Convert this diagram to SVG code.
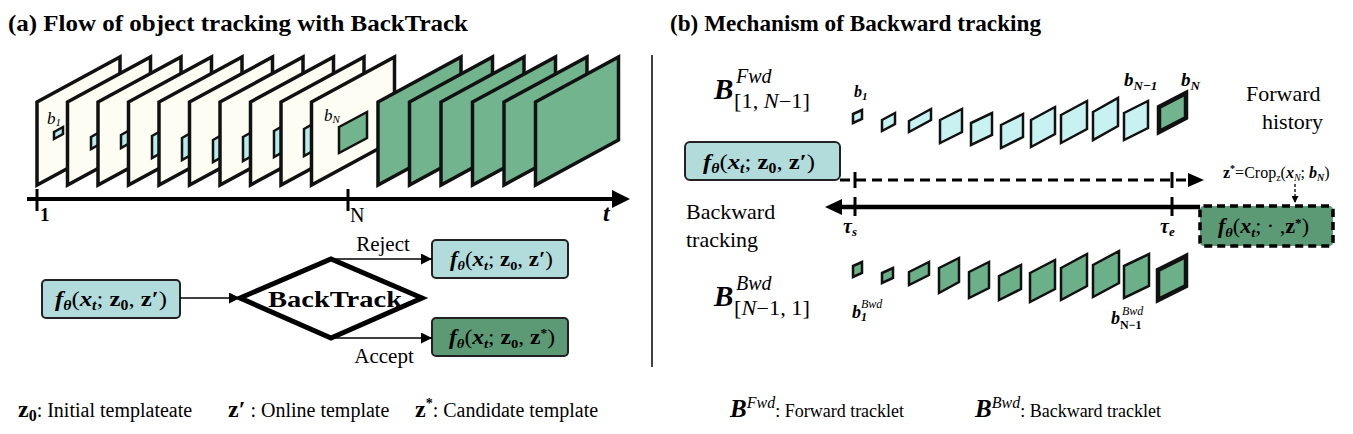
<svg xmlns="http://www.w3.org/2000/svg" width="1353" height="434" viewBox="0 0 1353 434" font-family="'Liberation Serif','Times New Roman',serif">
<defs>
<style>
text{font-family:"Liberation Serif","Times New Roman",serif;fill:#000}
.title{font-size:23px;font-weight:bold}
.bi{font-weight:bold;font-style:italic}
.b{font-weight:bold}
.it{font-style:italic}
.n{font-weight:normal;font-style:normal}
.frW{fill:#fdfdf3;stroke:#111;stroke-width:3.5;stroke-linejoin:miter}
.frG{fill:#72b48e;stroke:#111;stroke-width:3.5}
.sbox{fill:#b8ecec;stroke:#111;stroke-width:2.5}
.gbox{fill:#72b48e;stroke:#111;stroke-width:2.5}
.fb{fill:#c8f2f2;stroke:#111;stroke-width:2.5}
.bb{fill:#6cb08a;stroke:#111;stroke-width:2.5}
.teal{fill:#b2dcdc;stroke:#222;stroke-width:2}
.dkg{fill:#5b9a74;stroke:#222;stroke-width:2}
.ln{stroke:#000;fill:none}
.lbl{font-size:22px}
.leg{font-size:20px}
.legr{font-size:18px}
</style>
<marker id="ah" viewBox="0 0 10 10" refX="10" refY="5" markerWidth="11" markerHeight="11" markerUnits="userSpaceOnUse" orient="auto"><path d="M0,0L10,5L0,10z" fill="#000"/></marker>
<marker id="ahs" viewBox="0 0 10 10" refX="10" refY="5" markerWidth="7" markerHeight="7" markerUnits="userSpaceOnUse" orient="auto"><path d="M0,0L10,5L0,10z" fill="#000"/></marker>
</defs>
<rect width="1353" height="434" fill="#fff"/>

<text x="8" y="31" class="title" textLength="460" lengthAdjust="spacingAndGlyphs">(a) Flow of object tracking with BackTrack</text>
<text x="670" y="31" class="title" textLength="371" lengthAdjust="spacingAndGlyphs">(b) Mechanism of Backward tracking</text>
<line x1="652" y1="55" x2="652" y2="367" stroke="#000" stroke-width="1.5"/>

<g id="frames">
<polygon class="frW" points="37,102 120,57 120,140 37,185"/>
<polygon class="sbox" points="54,132 63,127 63,134 54,139"/>
<text x="47" y="124" class="it" font-size="17">b<tspan font-size="11" dy="2">1</tspan></text>
<polygon class="frW" points="67.5,102 150.5,57 150.5,140 67.5,185"/>
<polygon class="sbox" points="91,137 105,129 105,141 91,149"/>
<polygon class="frW" points="98,102 181,57 181,140 98,185"/>
<polygon class="sbox" points="121,135 135,127 135,140 121,148"/>
<polygon class="frW" points="128.5,102 211.5,57 211.5,140 128.5,185"/>
<polygon class="sbox" points="152,136 166,128 166,150 152,158"/>
<polygon class="frW" points="159,102 242,57 242,140 159,185"/>
<polygon class="sbox" points="182,138 196,130 196,152 182,160"/>
<polygon class="frW" points="189.5,102 272.5,57 272.5,140 189.5,185"/>
<polygon class="sbox" points="213,140 227,132 227,154 213,162"/>
<polygon class="frW" points="220,102 303,57 303,140 220,185"/>
<polygon class="sbox" points="243,137 257,129 257,153 243,161"/>
<polygon class="frW" points="250.5,102 333.5,57 333.5,140 250.5,185"/>
<polygon class="sbox" points="274,131 288,123 288,149 274,157"/>
<polygon class="frW" points="281,102 364,57 364,140 281,185"/>
<polygon class="sbox" points="304,129 318,121 318,148 304,156"/>
<polygon class="frW" points="311.5,102 394.5,57 394.5,140 311.5,185"/>
<polygon class="gbox" points="339,127 367,112 367,138 339,153"/>
<text x="324" y="121" class="it" font-size="17">b<tspan font-size="11" dy="2">N</tspan></text>
<polygon class="frG" points="378,102 461,57 461,140 378,185"/>
<polygon class="frG" points="409.5,102 492.5,57 492.5,140 409.5,185"/>
<polygon class="frG" points="441,102 524,57 524,140 441,185"/>
<polygon class="frG" points="472.5,102 555.5,57 555.5,140 472.5,185"/>
<polygon class="frG" points="504,102 587,57 587,140 504,185"/>
<polygon class="frG" points="535.5,102 618.5,57 618.5,140 535.5,185"/>
</g>

<g id="timeline">
<line x1="27" y1="199" x2="614" y2="199" stroke="#000" stroke-width="4"/>
<polygon points="612,190 630,199 612,208" fill="#000"/>
<line x1="37" y1="189" x2="37" y2="211" stroke="#000" stroke-width="3"/>
<line x1="348" y1="189" x2="348" y2="211" stroke="#000" stroke-width="3"/>
<text x="40" y="221" class="b" font-size="19">1</text>
<text x="350" y="222" font-size="20">N</text>
<text x="603" y="221" class="bi" font-size="24">t</text>
</g>

<g id="node-input">
<rect class="teal" x="42" y="280" width="138" height="38" rx="4"/>
<text x="55" y="306" font-size="22" textLength="112" lengthAdjust="spacingAndGlyphs"><tspan class="bi">f</tspan><tspan class="bi" font-size="14" dy="4">θ</tspan><tspan dy="-4">(</tspan><tspan class="bi">x</tspan><tspan class="bi" font-size="14" dy="4">t</tspan><tspan dy="-4">; </tspan><tspan class="b">z</tspan><tspan class="b" font-size="14" dy="4">0</tspan><tspan dy="-4">, </tspan><tspan class="b">z′</tspan>)</text>
</g>

<g id="node-backtrack">
<polygon points="240,298 331,259 422,298 331,338" fill="#fff" stroke="#000" stroke-width="5" stroke-linejoin="miter"/>
<text x="268" y="307" class="b" font-size="24" textLength="134" lengthAdjust="spacingAndGlyphs">BackTrack</text>
</g>

<g id="node-reject">
<rect class="teal" x="432" y="240" width="136" height="38" rx="4"/>
<text x="450" y="266" font-size="21" textLength="103" lengthAdjust="spacingAndGlyphs"><tspan class="bi">f</tspan><tspan class="bi" font-size="13" dy="4">θ</tspan><tspan dy="-4">(</tspan><tspan class="bi">x</tspan><tspan class="bi" font-size="13" dy="4">t</tspan><tspan dy="-4">; </tspan><tspan class="b">z</tspan><tspan class="b" font-size="13" dy="4">0</tspan><tspan dy="-4">, </tspan><tspan class="b">z′</tspan>)</text>
</g>

<g id="node-accept">
<rect class="dkg" x="432" y="318" width="136" height="38" rx="4"/>
<text x="449" y="344" font-size="21" textLength="106" lengthAdjust="spacingAndGlyphs"><tspan class="bi">f</tspan><tspan class="bi" font-size="13" dy="4">θ</tspan><tspan dy="-4">(</tspan><tspan class="bi">x</tspan><tspan class="bi" font-size="13" dy="4">t</tspan><tspan dy="-4">; </tspan><tspan class="b">z</tspan><tspan class="b" font-size="13" dy="4">0</tspan><tspan dy="-4">, </tspan><tspan class="b">z</tspan><tspan class="b" font-size="12" dy="-7">*</tspan><tspan dy="7">)</tspan></text>
</g>

<g id="connectors">
<line class="ln" x1="180" y1="298" x2="240" y2="298" stroke-width="1.5" marker-end="url(#ah)"/>
<line class="ln" x1="331" y1="259" x2="432" y2="259" stroke-width="1.5" marker-end="url(#ah)"/>
<line class="ln" x1="331" y1="338" x2="432" y2="338" stroke-width="1.5" marker-end="url(#ah)"/>
<text x="383" y="251" text-anchor="middle" font-size="21">Reject</text>
<text x="384" y="363" text-anchor="middle" font-size="21">Accept</text>
<line class="ln" x1="840" y1="180" x2="1190" y2="180" stroke-width="3" stroke-dasharray="10,6"/>
<polygon points="1188,173 1204,180 1188,187" fill="#000"/>
<line class="ln" x1="855" y1="172" x2="855" y2="188" stroke-width="3"/>
<line class="ln" x1="1172" y1="172" x2="1172" y2="188" stroke-width="3"/>
<line class="ln" x1="840" y1="207" x2="1200" y2="207" stroke-width="4.5"/>
<polygon points="825,207 842,199 842,215" fill="#000"/>
<line class="ln" x1="855" y1="197" x2="855" y2="216" stroke-width="3"/>
<line class="ln" x1="1172" y1="197" x2="1172" y2="216" stroke-width="3"/>
<line class="ln" x1="1295" y1="184" x2="1295" y2="203" stroke-width="1.3" stroke-dasharray="3,2" marker-end="url(#ahs)"/>
</g>

<g id="node-fwd-label">
<text x="714" y="99" font-size="29" class="bi">B</text>
<text x="736" y="83" font-size="20" class="it">Fwd</text>
<text x="734" y="108" font-size="20" textLength="76" lengthAdjust="spacingAndGlyphs">[1, <tspan class="it">N</tspan>−1]</text>
</g>

<g id="node-fwd-boxes">
<text x="854" y="97" class="bi" font-size="16">b<tspan font-size="11" dy="3">1</tspan></text>
<text x="1124" y="86" class="bi" font-size="19">b<tspan font-size="13" dy="4">N−1</tspan></text>
<text x="1181" y="86" class="bi" font-size="19">b<tspan font-size="13" dy="4">N</tspan></text>
<polygon class="fb" points="853,114 862,110 862,119 853,123"/>
<polygon class="fb" points="882,120 895,113 895,124 882,131"/>
<polygon class="fb" points="909,121 931,109 931,120 909,132"/>
<polygon class="fb" points="940,120 962,109 962,132 940,143"/>
<polygon class="fb" points="971,123 992,113 992,135 971,145"/>
<polygon class="fb" points="1001,125 1023,114 1023,137 1001,148"/>
<polygon class="fb" points="1031,120 1055,107 1055,134 1031,147"/>
<polygon class="fb" points="1061,115 1087,101 1087,129 1061,143"/>
<polygon class="fb" points="1093,112 1118,98 1118,126 1093,140"/>
<polygon class="fb" points="1124,113 1148,101 1148,128 1124,140"/>
<polygon points="1159,107 1186,93 1186,118 1159,132" fill="#72b48e" stroke="#111" stroke-width="4.5"/>
</g>

<g id="node-forward-history">
<text x="1246" y="101" class="lbl">Forward</text>
<text x="1262" y="129" class="lbl">history</text>
</g>

<g id="node-online">
<rect class="teal" x="685" y="142" width="155" height="38" rx="5"/>
<text x="703" y="169" font-size="22" textLength="112" lengthAdjust="spacingAndGlyphs"><tspan class="bi">f</tspan><tspan class="bi" font-size="14" dy="4">θ</tspan><tspan dy="-4">(</tspan><tspan class="bi">x</tspan><tspan class="bi" font-size="14" dy="4">t</tspan><tspan dy="-4">; </tspan><tspan class="b">z</tspan><tspan class="b" font-size="14" dy="4">0</tspan><tspan dy="-4">, </tspan><tspan class="b">z′</tspan>)</text>
</g>

<g id="node-backward-label">
<text x="686" y="219" class="lbl">Backward</text>
<text x="686" y="247" class="lbl">tracking</text>
<text x="843" y="233" class="bi" font-size="20">τ<tspan font-size="13" dy="3">s</tspan></text>
<text x="1160" y="233" class="bi" font-size="20">τ<tspan font-size="13" dy="3">e</tspan></text>
</g>

<g id="node-candidate">
<text x="1223" y="178" font-size="16"><tspan class="b">z</tspan><tspan class="b" font-size="10" dy="-6">*</tspan><tspan dy="6">=Crop</tspan><tspan font-size="10" dy="3">z</tspan><tspan dy="-3">(</tspan><tspan class="bi">x</tspan><tspan class="it" font-size="10" dy="3">N</tspan><tspan dy="-3">; </tspan><tspan class="bi">b</tspan><tspan class="bi" font-size="10" dy="3">N</tspan><tspan dy="-3">)</tspan></text>
<rect x="1200" y="206" width="133" height="40" rx="4" fill="#5b9a74" stroke="#000" stroke-width="3.5" stroke-dasharray="8,5"/>
<text x="1218" y="233" font-size="20" textLength="91" lengthAdjust="spacingAndGlyphs"><tspan class="bi">f</tspan><tspan class="bi" font-size="13" dy="4">θ</tspan><tspan dy="-4">(</tspan><tspan class="bi">x</tspan><tspan class="bi" font-size="13" dy="4">t</tspan><tspan dy="-4">; · ,</tspan><tspan class="b">z</tspan><tspan class="b" font-size="12" dy="-6">*</tspan><tspan dy="6">)</tspan></text>
</g>

<g id="node-bwd-boxes">
<polygon class="bb" points="853,266 862,262 862,273 853,277"/>
<polygon class="bb" points="882,273 893,268 893,278 882,283"/>
<polygon class="bb" points="909,272 929,262 929,275 909,285"/>
<polygon class="bb" points="939,268 959,258 959,282 939,293"/>
<polygon class="bb" points="969,272 989,262 989,288 969,298"/>
<polygon class="bb" points="999,276 1021,265 1021,289 999,300"/>
<polygon class="bb" points="1030,273 1055,260 1055,289 1030,302"/>
<polygon class="bb" points="1061,268 1087,254 1087,286 1061,300"/>
<polygon class="bb" points="1093,265 1119,251 1119,283 1093,297"/>
<polygon class="bb" points="1124,266 1149,254 1149,286 1124,298"/>
<polygon points="1158,270 1186,256 1186,286 1158,300" fill="#6cb08a" stroke="#111" stroke-width="4.5"/>
<text x="852" y="318" class="bi" font-size="18">b<tspan font-size="12" dy="3">1</tspan><tspan font-size="12" dx="-6" dy="-13" class="it" font-weight="normal">Bwd</tspan></text>
<text x="1111" y="324" class="bi" font-size="18">b<tspan font-size="12" dy="5" class="b" font-style="normal">N−1</tspan><tspan font-size="12" x="1122" dy="-14" class="it" font-weight="normal">Bwd</tspan></text>
</g>

<g id="node-bwd-label">
<text x="714" y="306" font-size="29" class="bi">B</text>
<text x="736" y="290" font-size="20" class="it">Bwd</text>
<text x="734" y="315" font-size="20" textLength="76" lengthAdjust="spacingAndGlyphs">[<tspan class="it">N</tspan>−1, 1]</text>
</g>

<g id="legend">
<text x="18" y="417" class="leg"><tspan class="b" font-size="24">z</tspan><tspan class="b" font-size="16" dy="4">0</tspan><tspan dy="-4">: Initial templateate</tspan></text>
<text x="228" y="417" class="leg"><tspan class="b" font-size="24">z′</tspan> : Online template</text>
<text x="415" y="417" class="leg"><tspan class="b" font-size="24">z</tspan><tspan class="b" font-size="14" dy="-9">*</tspan><tspan dy="9">: Candidate template</tspan></text>
<text x="730" y="417" class="legr"><tspan class="bi" font-size="25">B</tspan><tspan class="it" font-size="16" dy="-9">Fwd</tspan><tspan dy="9">: Forward tracklet</tspan></text>
<text x="975" y="417" class="legr"><tspan class="bi" font-size="25">B</tspan><tspan class="it" font-size="16" dy="-9">Bwd</tspan><tspan dy="9">: Backward tracklet</tspan></text>
</g>
</svg>
